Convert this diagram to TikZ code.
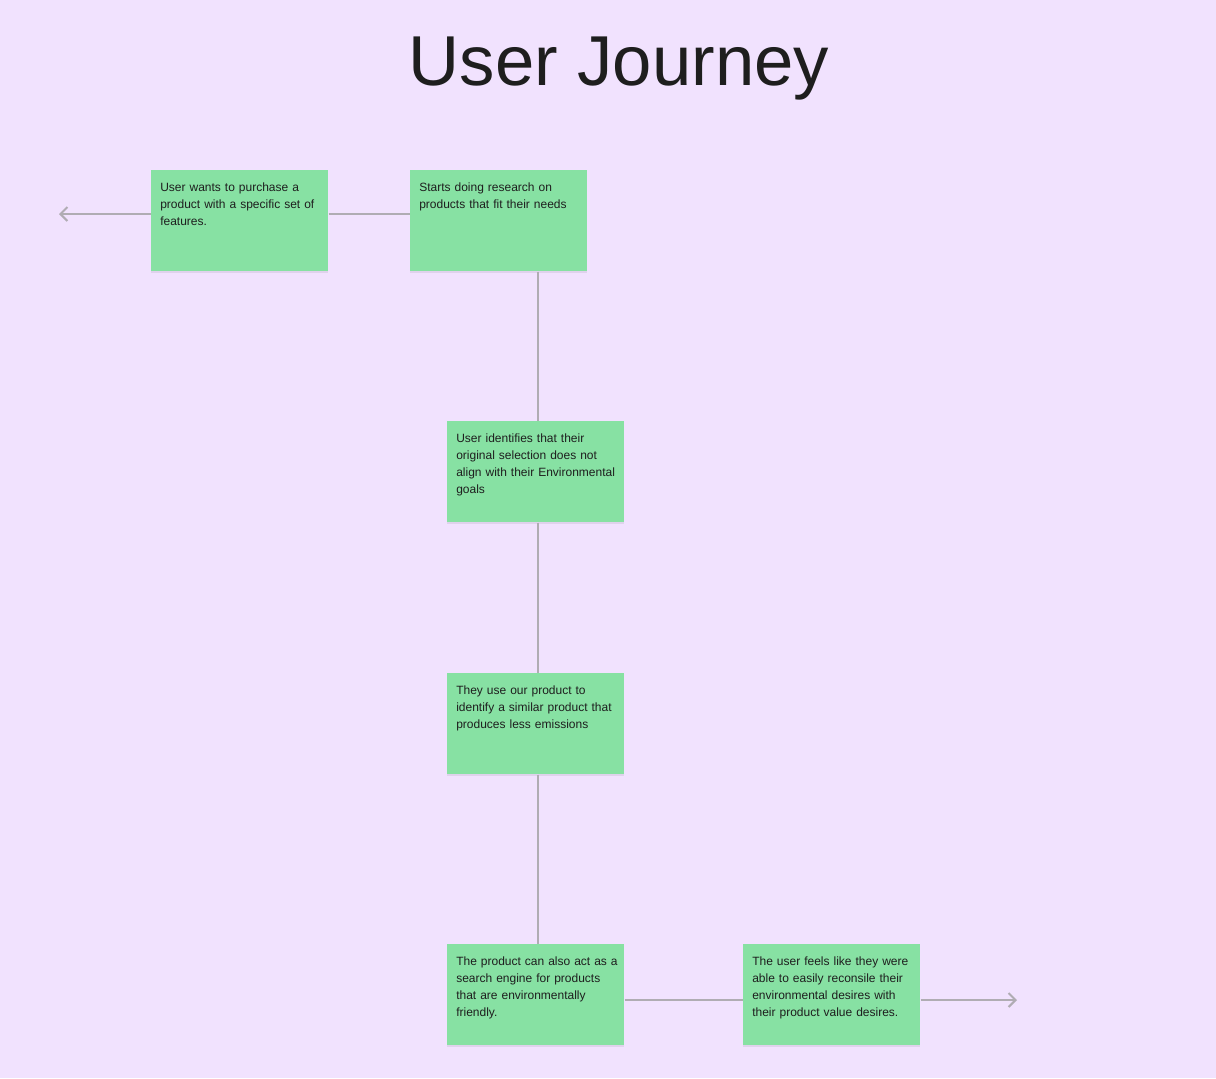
\documentclass[tikz,border=0pt]{standalone}
\usepackage{fontspec}
\setmainfont{Liberation Sans}
\usetikzlibrary{arrows.meta,shadows}
\definecolor{bgcol}{HTML}{F1E2FE}
\definecolor{boxcol}{HTML}{87E1A3}
\definecolor{linecol}{HTML}{B0ACB3}
\definecolor{txtcol}{HTML}{1E1E1E}
\tikzset{
  stickybox/.style={draw=none, fill=boxcol, anchor=north west,
    text width=119.25pt, inner xsep=6.75pt, inner ysep=0pt,
    text height=15.75pt, text depth=60pt, align=left,
    font=\fontsize{9pt}{12.75pt}\selectfont, text=txtcol,
    drop shadow={shadow xshift=0pt, shadow yshift=-1.5pt, opacity=0.07, fill=black}},
  conn/.style={draw=linecol, line width=1.5pt},
  arr/.style={conn, -{Straight Barb[length=5.25pt,width=10.5pt,line width=1.5pt]}}
}
\begin{document}
\begin{tikzpicture}[x=0.75pt,y=-0.75pt]
\fill[bgcol] (0,0) rectangle (1216,1078);
\useasboundingbox (0,0) rectangle (1216,1078);
\node[font=\fontsize{53pt}{60pt}\selectfont, text=txtcol, anchor=base] (title) at (619,85) {User Journey};

\node[stickybox] (b1) at (151,170) {\mbox{User wants to purchase a}\\\mbox{product with a specific set of}\\features.};
\node[stickybox] (b2) at (410,170) {Starts doing research on\\\mbox{products that fit their needs}};
\node[stickybox] (b3) at (447,421) {User identifies that their\\original selection does not\\\mbox{align with their Environmental}\\goals};
\node[stickybox] (b4) at (447,673) {They use our product to\\\mbox{identify a similar product that}\\produces less emissions};
\node[stickybox] (b5) at (447,944) {\mbox{The product can also act as a}\\search engine for products\\that are environmentally\\friendly.};
\node[stickybox] (b6) at (743,944) {\mbox{The user feels like they were}\\able to easily reconsile their\\environmental desires with\\\mbox{their product value desires.}};

\coordinate (startarr) at (59,214);
\coordinate (endarr) at (1017,1000);

\draw[arr] (b1.west |- 0,214) -- (startarr);
\draw[conn] (b1.east |- 0,214) -- (b2.west |- 0,214);
\draw[conn] (b2.south -| 538,0) -- (b3.north -| 538,0);
\draw[conn] (b3.south -| 538,0) -- (b4.north -| 538,0);
\draw[conn] (b4.south -| 538,0) -- (b5.north -| 538,0);
\draw[conn] (b5.east |- 0,1000) -- (b6.west |- 0,1000);
\draw[arr] (b6.east |- 0,1000) -- (endarr);
\end{tikzpicture}
\end{document}
